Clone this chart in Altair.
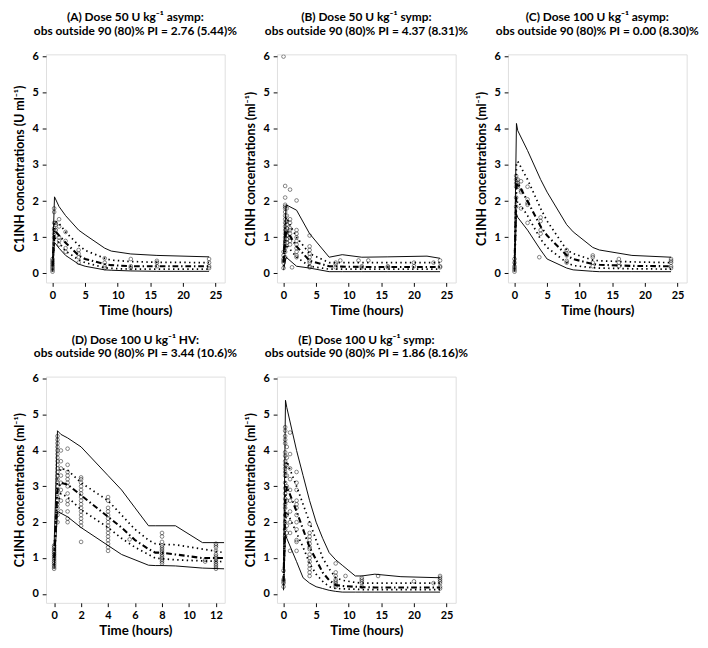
import altair as alt
import pandas as pd

# ---------------- Panel A: Dose 50 U/kg asymp ----------------
a_t   = [0, 0.3, 1, 2, 4, 5, 8, 9, 12, 16, 24]
a_p95 = [0.4, 2.12, 1.85, 1.6, 1.2, 1.07, 0.7, 0.62, 0.54, 0.5, 0.46]
a_p90 = [0.3, 1.45, 1.38, 1.15, 0.78, 0.64, 0.42, 0.37, 0.33, 0.31, 0.3]
a_p50 = [0.2, 1.2, 1.05, 0.85, 0.5, 0.4, 0.26, 0.23, 0.2, 0.2, 0.2]
a_p10 = [0.1, 1.0, 0.85, 0.62, 0.38, 0.3, 0.16, 0.14, 0.12, 0.12, 0.12]
a_p05 = [0.05, 0.86, 0.7, 0.5, 0.26, 0.2, 0.1, 0.09, 0.07, 0.06, 0.06]
a_obs_t = [0, 0, 0, 0, 0, 0, 0, 0,
           0.25, 0.25, 0.25, 0.25, 0.25, 0.25, 0.25,
           0.5, 0.5, 0.5, 1, 1, 1, 1, 1, 2, 2, 2, 2,
           4, 4, 4, 4, 8, 8, 8, 8, 12, 12, 12, 16, 16, 16, 24, 24, 24, 24]
a_obs_c = [0.05, 0.1, 0.15, 0.2, 0.25, 0.3, 0.35, 0.4,
           1.8, 1.7, 1.4, 1.25, 1.1, 1.2, 1.0,
           1.4, 1.35, 1.2, 1.5, 1.3, 1.0, 0.9, 0.8, 1.15, 0.9, 0.7, 0.6,
           0.65, 0.55, 0.45, 0.3, 0.42, 0.3, 0.2, 0.15, 0.4, 0.2, 0.15, 0.35, 0.3, 0.2, 0.4, 0.3, 0.2, 0.15]

# ---------------- Panel B: Dose 50 U/kg symp ----------------
b_t   = [0, 0.4, 2, 4, 7, 9, 12, 16, 22, 24]
b_p95 = [0.6, 1.9, 1.75, 1.1, 0.45, 0.52, 0.45, 0.46, 0.48, 0.42]
b_p90 = [0.45, 1.55, 1.0, 0.55, 0.3, 0.3, 0.3, 0.3, 0.3, 0.3]
b_p50 = [0.3, 1.2, 0.75, 0.35, 0.2, 0.19, 0.18, 0.18, 0.18, 0.18]
b_p10 = [0.2, 0.8, 0.45, 0.2, 0.12, 0.12, 0.12, 0.12, 0.12, 0.12]
b_p05 = [0.1, 0.45, 0.2, 0.15, 0.05, 0.05, 0.05, 0.05, 0.05, 0.05]
b_obs_t = [0, 0, 0, 0, 0, 0, 0,
           0.25, 0.25, 0.25, 0.25, 0.25, 0.25, 0.25, 0.25, 0.25, 0.25, 0.25, 0.25, 0.25, 0.25, 0.25, 0.25, 0.25, 0.25,
           0.5, 0.5, 0.5, 0.5, 0.5, 0.5, 0.5, 0.5, 0.5,
           1, 1, 1, 1, 1, 1, 1, 1, 1, 1.3,
           2, 2, 2, 2, 2, 2, 2, 2, 2, 2,
           4, 4, 4, 4, 4, 4, 4, 4, 4,
           8, 8, 8, 8.7, 11.5, 12, 12, 13, 16, 16, 20, 20, 23, 24, 24, 24]
b_obs_c = [6.0, 0.15, 0.3, 0.4, 0.5, 0.6, 0.35,
           2.42, 2.1, 1.9, 1.85, 1.8, 1.7, 1.6, 1.5, 1.4, 1.3, 1.2, 1.1, 1.0, 0.9, 0.8, 0.7, 0.6, 0.45,
           1.8, 1.6, 1.45, 1.35, 1.25, 1.15, 1.05, 0.95, 0.85,
           2.32, 1.5, 1.4, 1.25, 1.2, 1.1, 1.0, 0.9, 0.8, 0.17,
           2.02, 1.2, 1.1, 1.0, 0.9, 0.8, 0.7, 0.6, 0.5, 0.45,
           1.05, 0.75, 0.65, 0.55, 0.45, 0.35, 0.3, 0.2, 0.17,
           0.3, 0.25, 0.17, 0.36, 0.36, 0.2, 0.17, 0.36, 0.2, 0.17, 0.3, 0.2, 0.3, 0.36, 0.17, 0.2]

# ---------------- Panel C: Dose 100 U/kg asymp ----------------
c_t   = [0, 0.3, 0.5, 2, 4, 5, 8, 9, 12, 13, 18, 24]
c_p95 = [0.4, 4.15, 3.95, 3.4, 2.6, 2.25, 1.35, 1.15, 0.72, 0.65, 0.5, 0.45]
c_p90 = [0.35, 3.0, 3.1, 2.6, 1.8, 1.45, 0.65, 0.55, 0.37, 0.35, 0.32, 0.3]
c_p50 = [0.2, 2.4, 2.5, 2.0, 1.3, 1.05, 0.5, 0.4, 0.26, 0.24, 0.21, 0.2]
c_p10 = [0.12, 1.9, 2.0, 1.6, 0.95, 0.72, 0.3, 0.22, 0.16, 0.15, 0.13, 0.12]
c_p05 = [0.05, 1.65, 1.55, 1.2, 0.65, 0.4, 0.15, 0.1, 0.06, 0.05, 0.05, 0.05]
c_obs_t = [0, 0, 0, 0, 0, 0,
           0.25, 0.25, 0.25, 0.25, 0.25, 0.25, 0.5, 0.5, 0.5, 0.5,
           1, 1, 1, 1, 2, 2, 2, 2, 2, 4, 4, 4, 4, 3.8,
           8, 8, 8, 8, 8, 12, 12, 12, 12, 16, 16, 16, 24, 24, 24, 24, 24]
c_obs_c = [0.05, 0.1, 0.15, 0.2, 0.3, 0.4,
           2.7, 2.6, 2.5, 2.4, 2.1, 1.85, 2.6, 2.5, 2.45, 2.4,
           2.55, 2.3, 2.25, 1.8, 2.4, 2.05, 1.95, 1.9, 1.4, 1.55, 1.45, 1.2, 1.1, 0.45,
           0.65, 0.55, 0.5, 0.35, 0.3, 0.5, 0.45, 0.3, 0.2, 0.4, 0.3, 0.2, 0.4, 0.35, 0.3, 0.2, 0.15]

# ---------------- Panel D: Dose 100 U/kg HV ----------------
d_t   = [0, 0.25, 0.5, 1, 2, 4, 5, 6, 7, 7.5, 8, 9, 11, 12.6]
d_p95 = [1.35, 4.55, 4.45, 4.35, 4.1, 3.3, 2.9, 2.4, 1.9, 1.9, 1.9, 1.9, 1.43, 1.43]
d_p90 = [1.2, 3.3, 3.5, 3.45, 3.1, 2.6, 2.2, 1.8, 1.5, 1.4, 1.38, 1.37, 1.25, 1.15]
d_p50 = [1.0, 2.9, 3.1, 3.05, 2.75, 2.15, 1.85, 1.5, 1.25, 1.15, 1.15, 1.1, 1.0, 1.0]
d_p10 = [0.8, 2.5, 2.8, 2.7, 2.35, 1.85, 1.55, 1.3, 1.1, 1.0, 0.98, 0.95, 0.92, 0.9]
d_p05 = [0.7, 2.3, 2.25, 2.15, 1.85, 1.35, 1.1, 0.95, 0.8, 0.79, 0.79, 0.78, 0.72, 0.7]
d_obs_t = [0] * 14 + [0.25] * 23 + [0.5] * 8 + [1] * 13 + [2] * 16 + [4] * 15 + [5.6] + [8] * 14 + [11.2, 11.2] + [12] * 13
d_obs_c = [0.7, 0.75, 0.8, 0.85, 0.9, 0.95, 1.0, 1.05, 1.1, 1.15, 1.2, 1.25, 1.3, 1.35,
           2.0, 2.2, 2.4, 2.5, 2.6, 2.7, 2.8, 2.9, 3.0, 3.1, 3.2, 3.3, 3.4, 3.5, 3.6, 3.7, 3.8, 3.9, 4.0, 4.1, 4.2, 4.3, 4.4,
           2.3, 2.6, 2.9, 3.1, 3.3, 3.5, 3.7, 4.0,
           4.05, 3.6, 3.4, 3.3, 3.2, 3.1, 3.0, 2.8, 2.6, 2.5, 2.3, 2.1, 2.0,
           3.25, 3.2, 3.1, 3.0, 2.9, 2.8, 2.7, 2.6, 2.5, 2.4, 2.3, 2.2, 2.1, 2.0, 1.9, 1.45,
           2.7, 2.6, 2.4, 2.3, 2.2, 2.1, 2.0, 1.9, 1.8, 1.7, 1.6, 1.5, 1.4, 1.3, 1.2,
           1.52,
           1.7, 1.6, 1.45, 1.35, 1.3, 1.25, 1.2, 1.15, 1.1, 1.05, 1.0, 0.95, 0.9, 0.85,
           0.95, 0.9,
           1.4, 1.35, 1.3, 1.2, 1.1, 1.05, 1.0, 0.95, 0.9, 0.85, 0.8, 0.75, 0.7]

# ---------------- Panel E: Dose 100 U/kg symp ----------------
e_t   = [0, 0.3, 0.5, 2, 3, 4, 5, 6, 7, 8, 9, 11, 12, 14, 18, 24]
e_p95 = [0.65, 5.4, 5.2, 4.0, 3.3, 2.6, 2.0, 1.55, 1.15, 0.95, 0.8, 0.5, 0.5, 0.55, 0.48, 0.45]
e_p90 = [0.45, 3.4, 3.7, 3.0, 2.5, 2.0, 1.5, 1.0, 0.7, 0.45, 0.38, 0.32, 0.3, 0.3, 0.3, 0.3]
e_p50 = [0.35, 2.7, 3.0, 2.3, 1.8, 1.3, 0.95, 0.6, 0.38, 0.25, 0.22, 0.2, 0.19, 0.18, 0.18, 0.18]
e_p10 = [0.25, 2.0, 2.3, 1.7, 1.3, 0.85, 0.55, 0.35, 0.2, 0.15, 0.14, 0.13, 0.12, 0.12, 0.12, 0.12]
e_p05 = [0.1, 1.65, 1.55, 0.9, 0.45, 0.3, 0.2, 0.15, 0.1, 0.07, 0.05, 0.05, 0.05, 0.05, 0.05, 0.05]
e_obs_t = [0] * 5 + [0.25] * 22 + [0.5] * 9 + [1] * 10 + [2] * 12 + [4] * 14 + [8] * 8 + [9.5] + [12] * 5 + [14.5, 20, 23] + [24] * 7
e_obs_c = [0.2, 0.3, 0.35, 0.4, 0.65,
           4.65, 4.55, 4.4, 4.3, 4.2, 3.95, 3.85, 3.7, 3.6, 3.5, 3.4, 3.3, 3.1, 2.95, 2.8, 2.65, 2.5, 2.4, 2.2, 2.0, 1.8, 1.6,
           4.1, 3.8, 3.6, 3.3, 3.0, 2.6, 2.2, 1.9, 1.7,
           4.5, 3.9, 3.5, 3.2, 2.9, 2.6, 2.3, 2.0, 1.7, 1.2,
           3.4, 3.1, 2.9, 2.6, 2.5, 2.4, 2.2, 2.0, 1.8, 1.5, 1.45, 1.2,
           1.95, 1.7, 1.6, 1.5, 1.4, 1.3, 1.25, 1.1, 1.0, 0.9, 0.8, 0.7, 0.6, 0.5,
           0.85, 0.6, 0.5, 0.4, 0.35, 0.3, 0.25, 0.2,
           0.5,
           0.45, 0.4, 0.35, 0.3, 0.2,
           0.5, 0.35, 0.3,
           0.5, 0.45, 0.4, 0.35, 0.3, 0.2, 0.15]

FONT = "Lato"
PW = 188


def panel(t, p05, p10, p50, p90, p95, ot, oc, title, ytitle, xdom, xticks, ph):
    rows = []
    for name, vals in [("p05", p05), ("p10", p10), ("p50", p50), ("p90", p90), ("p95", p95)]:
        for ti, v in zip(t, vals):
            rows.append({"t": ti, "c": v, "pct": name})
    lines = pd.DataFrame(rows)
    obs = pd.DataFrame({"t": ot, "c": oc})

    x = alt.X("t:Q", scale=alt.Scale(domain=xdom, nice=False, zero=False),
              axis=alt.Axis(values=xticks, title="Time (hours)", grid=False, domain=False,
                            tickSize=4, tickColor="black", labelFont=FONT, labelFontWeight="bold",
                            labelFontSize=11.5, labelColor="black", titleFont=FONT,
                            titleFontSize=14, titleFontWeight="bold", titleColor="black",
                            labelPadding=4, titlePadding=3, format="d"))
    y = alt.Y("c:Q", scale=alt.Scale(domain=[-0.25, 6.06], nice=False, zero=False),
              axis=alt.Axis(values=[0, 1, 2, 3, 4, 5, 6], title=ytitle, grid=False, domain=False,
                            tickSize=4, tickColor="black", labelFont=FONT, labelFontWeight="bold",
                            labelFontSize=11.5, labelColor="black", titleFont=FONT,
                            titleFontSize=13, titleFontWeight="bold", titleColor="black",
                            labelPadding=4, titlePadding=6))

    base = alt.Chart(lines).encode(x=x, y=y, detail="pct:N")
    solid = base.transform_filter("datum.pct == 'p05' || datum.pct == 'p95'").mark_line(
        color="black", strokeWidth=1, clip=True)
    dotted = base.transform_filter("datum.pct == 'p10' || datum.pct == 'p90'").mark_line(
        color="black", strokeWidth=1.8, strokeDash=[1.5, 3.5], clip=True)
    median = base.transform_filter("datum.pct == 'p50'").mark_line(
        color="black", strokeWidth=2.2, strokeDash=[6, 3, 1.5, 3], clip=True)
    pts = alt.Chart(obs).mark_point(shape="circle", filled=False, color="black", size=15,
                                     strokeWidth=0.7, clip=True).encode(x=x, y=y)
    return alt.layer(solid, dotted, median, pts).properties(
        width=PW, height=ph,
        title=alt.TitleParams(text=title[0], subtitle=title[1], font=FONT, fontSize=12.5,
                              fontWeight="bold", color="black", anchor="middle", offset=14,
                              subtitleFont=FONT, subtitleFontSize=12.5, subtitleFontWeight="bold",
                              subtitleColor="black", subtitlePadding=2))


ylab_u = "C1INH concentrations (U ml⁻¹)"
ylab = "C1INH concentrations (ml⁻¹)"
x25 = [0, 5, 10, 15, 20, 25]

pA = panel(a_t, a_p05, a_p10, a_p50, a_p90, a_p95, a_obs_t, a_obs_c,
           ["(A)  Dose 50 U kg⁻¹ asymp:", "obs outside 90 (80)% PI = 2.76 (5.44)%"],
           ylab_u, [-1.0, 26.4], x25, 240)
pB = panel(b_t, b_p05, b_p10, b_p50, b_p90, b_p95, b_obs_t, b_obs_c,
           ["(B)  Dose 50 U kg⁻¹ symp:", "obs outside 90 (80)% PI = 4.37 (8.31)%"],
           ylab, [-1.0, 26.4], x25, 240)
pC = panel(c_t, c_p05, c_p10, c_p50, c_p90, c_p95, c_obs_t, c_obs_c,
           ["(C)  Dose 100 U kg⁻¹ asymp:", "obs outside 90 (80)% PI = 0.00 (8.30)%"],
           ylab, [-1.0, 26.4], x25, 240)
pD = panel(d_t, d_p05, d_p10, d_p50, d_p90, d_p95, d_obs_t, d_obs_c,
           ["(D)  Dose 100 U kg⁻¹ HV:", "obs outside 90 (80)% PI = 3.44 (10.6)%"],
           ylab, [-0.6, 12.65], [0, 2, 4, 6, 8, 10, 12], 238)
pE = panel(e_t, e_p05, e_p10, e_p50, e_p90, e_p95, e_obs_t, e_obs_c,
           ["(E)  Dose 100 U kg⁻¹ symp:", "obs outside 90 (80)% PI = 1.86 (8.16)%"],
           ylab, [-1.0, 26.4], x25, 238)

row1 = alt.hconcat(pA, pB, pC, spacing=6)
row2 = alt.hconcat(pD, pE, spacing=6)
chart = alt.vconcat(row1, row2, spacing=16).configure_view(
    stroke="black", strokeWidth=1).configure(
    padding={"left": 5, "top": -14, "right": 0, "bottom": 0}, background="white")

chart.save("out.html", embed_options={"renderer": "svg", "actions": False})
